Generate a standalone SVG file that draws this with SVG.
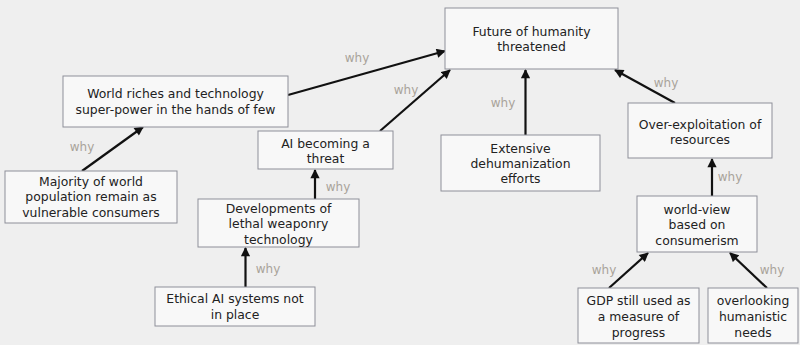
<svg xmlns="http://www.w3.org/2000/svg" width="800" height="345" viewBox="0 0 800 345">
<defs>
<marker id="ah" viewBox="0 0 10 10" refX="9" refY="5" markerWidth="4.6" markerHeight="4.2" orient="auto" markerUnits="strokeWidth">
<path d="M0,0 L10,5 L0,10 z" fill="#111"/>
</marker>
<style>
.box{fill:#f8f8f8;stroke:#8e8f99;stroke-width:1}
.t{font-family:"DejaVu Sans","Open Sans",sans-serif;font-size:12.4px;fill:#222;text-anchor:middle}
.why{font-family:"DejaVu Sans","Open Sans",sans-serif;font-size:12px;fill:#a9a39a;text-anchor:middle}
.c{stroke:#111;stroke-width:2.2;fill:none;marker-end:url(#ah)}
</style>
</defs>
<rect width="800" height="345" fill="#efefef"/>
<g id="connectors">
<line class="c" x1="288" y1="95" x2="445" y2="51"/>
<line class="c" x1="380" y1="131" x2="450" y2="70"/>
<line class="c" x1="525.5" y1="135" x2="525.5" y2="70"/>
<line class="c" x1="675" y1="103" x2="615" y2="70"/>
<line class="c" x1="82" y1="171" x2="143" y2="127"/>
<line class="c" x1="315" y1="199" x2="315" y2="170"/>
<line class="c" x1="245.5" y1="287" x2="245.5" y2="248"/>
<line class="c" x1="712" y1="196" x2="712" y2="159"/>
<line class="c" x1="609" y1="288" x2="648" y2="253"/>
<line class="c" x1="767" y1="288" x2="730" y2="253"/>
</g>
<g id="labels">
<text class="why" x="357" y="62">why</text>
<text class="why" x="406" y="94">why</text>
<text class="why" x="503" y="107">why</text>
<text class="why" x="666" y="87">why</text>
<text class="why" x="82" y="151">why</text>
<text class="why" x="338" y="191">why</text>
<text class="why" x="268" y="273">why</text>
<text class="why" x="730" y="181">why</text>
<text class="why" x="604" y="274">why</text>
<text class="why" x="772" y="274">why</text>
</g>
<g id="n-future"><rect class="box" x="445" y="8" width="173" height="61"/>
<text class="t" x="531.5" y="36">Future of humanity</text><text class="t" x="531.5" y="51">threatened</text></g>
<g id="n-riches"><rect class="box" x="63" y="76" width="225" height="51"/>
<text class="t" x="175.5" y="97.5">World riches and technology</text><text class="t" x="175.5" y="113.5">super-power in the hands of few</text></g>
<g id="n-ai"><rect class="box" x="258" y="131" width="135" height="38"/>
<text class="t" x="325.5" y="147.5">AI becoming a</text><text class="t" x="325.5" y="162.5">threat</text></g>
<g id="n-dehuman"><rect class="box" x="441" y="135" width="159" height="56"/>
<text class="t" x="520.5" y="152.5">Extensive</text><text class="t" x="520.5" y="167.5">dehumanization</text><text class="t" x="520.5" y="182.5">efforts</text></g>
<g id="n-overexp"><rect class="box" x="628" y="103" width="144" height="55"/>
<text class="t" x="700" y="128.5">Over-exploitation of</text><text class="t" x="700" y="143.5">resources</text></g>
<g id="n-majority"><rect class="box" x="5" y="171" width="172" height="52"/>
<text class="t" x="91" y="185.5">Majority of world</text><text class="t" x="91" y="200.5">population remain as</text><text class="t" x="91" y="216.5">vulnerable consumers</text></g>
<g id="n-weapons"><rect class="box" x="198" y="199" width="161" height="48"/>
<text class="t" x="278.5" y="212.5">Developments of</text><text class="t" x="278.5" y="227.5">lethal weaponry</text><text class="t" x="278.5" y="243.5">technology</text></g>
<g id="n-ethical"><rect class="box" x="155" y="287" width="160" height="39"/>
<text class="t" x="235" y="302.5">Ethical AI systems not</text><text class="t" x="235" y="318.5">in place</text></g>
<g id="n-worldview"><rect class="box" x="637" y="196" width="120" height="56"/>
<text class="t" x="697" y="213.5">world-view</text><text class="t" x="697" y="228.5">based on</text><text class="t" x="697" y="244.5">consumerism</text></g>
<g id="n-gdp"><rect class="box" x="578" y="288" width="121" height="55"/>
<text class="t" x="638.5" y="304.5">GDP still used as</text><text class="t" x="638.5" y="320.5">a measure of</text><text class="t" x="638.5" y="336.5">progress</text></g>
<g id="n-humanistic"><rect class="box" x="708" y="288" width="90" height="55"/>
<text class="t" x="753" y="304.5">overlooking</text><text class="t" x="753" y="320.5">humanistic</text><text class="t" x="753" y="336.5">needs</text></g>
</svg>
